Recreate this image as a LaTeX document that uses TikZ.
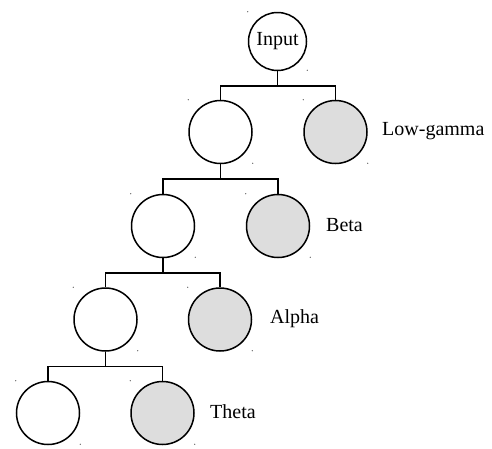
\documentclass[tikz,border=0pt]{standalone}
\usepackage{fontspec}
\setmainfont{Liberation Serif}
\begin{document}
\begin{tikzpicture}[x=1pt,y=-1pt,
  band/.style={circle,draw=black,line width=1.5pt,minimum size=63pt,inner sep=0pt,fill=white},
  leaf/.style={band,fill=leafgray},
  inbox/.style={band,minimum size=58pt,font=\fontsize{20}{24}\selectfont},
  lbl/.style={anchor=west,inner sep=0pt,font=\fontsize{20}{24}\selectfont},
  wire/.style={line width=1.5pt}]
\definecolor{leafgray}{RGB}{221,221,221}
\useasboundingbox (0,0) rectangle (492,448);
\node[inbox] (in) at (277.5,41.5) {Input};
\node[band] (a1) at (220.5,132) {};
\node[leaf] (g1) at (335.5,132) {};
\node[band] (a2) at (163,226) {};
\node[leaf] (g2) at (278,226) {};
\node[band] (a3) at (105.5,319.5) {};
\node[leaf] (g3) at (220,319.5) {};
\node[band] (a4) at (48,413) {};
\node[leaf] (g4) at (162.5,413) {};
\node[lbl] (t1) at (382,131) {Low-gamma};
\node[lbl] (t2) at (326,225) {Beta};
\node[lbl] (t3) at (270,318.5) {Alpha};
\node[lbl] (t4) at (210,412) {Theta};
\coordinate (b1) at (0,86);
\coordinate (b2) at (0,179);
\coordinate (b3) at (0,273);
\coordinate (b4) at (0,366.5);
\draw[wire] (in.south) -- (in.south |- b1) -| (a1.north);
\draw[wire] (in.south |- b1) -| (g1.north);
\draw[wire] (a1.south) -- (a1.south |- b2) -| (a2.north);
\draw[wire] (a1.south |- b2) -| (g2.north);
\draw[wire] (a2.south) -- (a2.south |- b3) -| (a3.north);
\draw[wire] (a2.south |- b3) -| (g3.north);
\draw[wire] (a3.south) -- (a3.south |- b4) -| (a4.north);
\draw[wire] (a3.south |- b4) -| (g4.north);
\foreach \n in {in,a1,g1,a2,g2,a3,g3,a4,g4}{
  \fill[black!70] (\n.west |- \n.north) circle (0.6pt);
  \fill[black!70] ([yshift=1pt]\n.east |- \n.south) circle (0.6pt);
}
\end{tikzpicture}
\end{document}
